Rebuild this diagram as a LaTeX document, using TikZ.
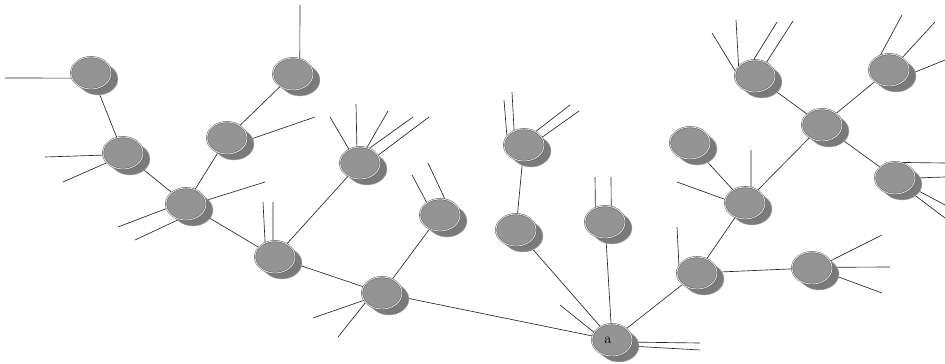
\documentclass[tikz,border=0pt]{standalone}
\usetikzlibrary{shapes.geometric,shadows,backgrounds}
\begin{document}
\begin{tikzpicture}[x=1pt,y=-1pt]
    \tikzset{coin/.style = {shape=ellipse, draw=black!70, fill=black!42, double=black!10, double distance=0.9pt, minimum width=40pt, minimum height=32pt, inner sep=0pt, general shadow={fill=black!52, draw=black!30, shadow xshift=7pt, shadow yshift=-6pt}}}
    \tikzset{edge/.style = {draw=black!85, line width=0.65pt}}
    \useasboundingbox (0,0) rectangle (945,364);

    % vertices
    \node[coin] (v1)  at (91,73)   {};
    \node[coin] (v2)  at (123,153) {};
    \node[coin] (v3)  at (186,204) {};
    \node[coin] (v4)  at (227,138) {};
    \node[coin] (v5)  at (293,74)  {};
    \node[coin] (v6)  at (275,257) {};
    \node[coin] (v7)  at (360,163) {};
    \node[coin] (v8)  at (382,293) {};
    \node[coin] (v9)  at (440,215) {};
    \node[coin] (v10) at (524,145) {};
    \node[coin] (v11) at (516,230) {};
    \node[coin] (v12) at (605,222) {};
    \node[coin] (a)   at (612,340) {\Large\hspace*{-8pt}a};
    \node[coin] (v14) at (697,273) {};
    \node[coin] (v15) at (745,203) {};
    \node[coin] (v16) at (690,143) {};
    \node[coin] (v17) at (822,125) {};
    \node[coin] (v18) at (755,76)  {};
    \node[coin] (v19) at (889,70)  {};
    \node[coin] (v20) at (895,178) {};
    \node[coin] (v21) at (812,268) {};

    \begin{scope}[on background layer]
    % edges
    \foreach \p/\q in {v1/v2, v2/v3, v3/v4, v4/v5, v3/v6, v6/v7, v6/v8, v8/v9, v8/a,
                       v10/v11, v11/a, v12/a, a/v14, v14/v15, v14/v21, v16/v15,
                       v15/v17, v17/v18, v17/v19, v17/v20}
        \draw[edge] (\p) -- (\q);

    % loose ends
    \foreach \v/\ang/\x/\y [count=\i] in {v1/195/5/78, v2/186/45/157, v2/211/63/182,
        v3/193/118/227, v3/246/135/240, v3/10/265/182, v4/353/315/117, v5/66/300/5,
        v6/125/263/202, v6/97/273/202, v7/129/330/117, v7/101/356/104, v7/66/388/111,
        v7/58/413/117, v7/23/429/117, v8/202/313/318, v8/210/338/337, v9/137/412/175,
        v9/72/428/163, v10/153/504/100, v10/125/512/92, v10/49/570/105, v10/23/579/111,
        v12/124/595/177, v12/68/611/177, a/157/560/305, a/354/700/343, a/342/700/350,
        v14/158/677/227, v15/170/677/182, v15/69/751/150, v18/167/712/33, v18/150/736/20,
        v18/95/777/22, v18/50/793/21, v19/121/902/15, v19/43/935/22, v19/346/945/60,
        v20/70/945/163, v20/0/945/177, v20/331/945/205, v20/317/945/218,
        v21/21/882/235, v21/2/890/267, v21/342/882/293}
    {
        \coordinate (s\i) at (\x,\y);
        \draw[edge] (\v.\ang) -- (s\i);
    }
    \end{scope}
\end{tikzpicture}
\end{document}
